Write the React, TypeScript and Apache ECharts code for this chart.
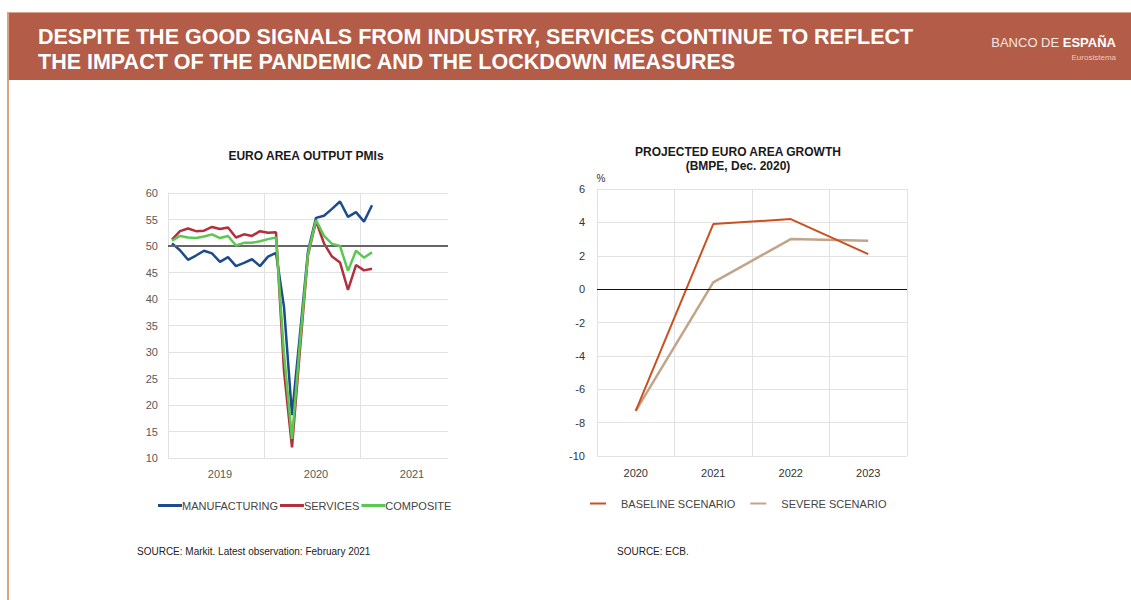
import React, { useEffect, useRef } from "react";
import * as echarts from "echarts";

const FONT = "'Liberation Sans', Arial, Helvetica, sans-serif";

// Left chart: monthly Euro area output PMIs (Jan 2019 – Feb 2021)
const YEARS = ["2019", "2020", "2021"];
const MONTHS = ["01", "02", "03", "04", "05", "06", "07", "08", "09", "10", "11"];
const MONTH_LIST_FULL = ["01", "02", "03", "04", "05", "06", "07", "08", "09", "10", "11", "12"];
const manufacturing = [50.5, 49.2, 47.4, 48.2, 49.1, 48.6, 47.0, 47.9, 46.2, 46.8, 47.5, 46.2, 48.0, 48.7, 38.5, 18.1, 33.4, 49.0, 55.3, 55.7, 57.0, 58.4, 55.5, 56.4, 54.6, 57.7];
const services = [51.2, 52.8, 53.3, 52.8, 52.9, 53.6, 53.2, 53.5, 51.6, 52.2, 51.9, 52.8, 52.5, 52.6, 26.4, 12.0, 30.5, 48.3, 54.7, 50.5, 48.0, 46.9, 41.7, 46.4, 45.4, 45.7];
const composite = [51.0, 51.9, 51.6, 51.5, 51.8, 52.2, 51.5, 51.9, 50.1, 50.6, 50.6, 50.9, 51.3, 51.6, 29.7, 13.6, 31.9, 48.5, 54.9, 51.9, 50.4, 50.0, 45.3, 49.1, 47.8, 48.8];
const PMI_REFERENCE = 50;

// Right chart: projected growth (%)
const projYears = ["2020", "2021", "2022", "2023"];
const baseline = [-7.3, 3.9, 4.2, 2.1];
const severe = [-7.3, 0.4, 3.0, 2.9];

// 35 monthly categories: Jan 2019 ... Nov 2021
const monthCats: string[] = [];
YEARS.forEach((y, yi) => {
  const list = yi < YEARS.length - 1 ? MONTH_LIST_FULL : MONTHS;
  list.forEach((m) => monthCats.push(`${y}-${m}`));
});

export default function App() {
  const ref = useRef<HTMLDivElement>(null);

  useEffect(() => {
    if (!ref.current) return;
    const chart = echarts.init(ref.current, null, { renderer: "svg" });

    const axisLabelStyle = { color: "#595959", fontSize: 11, fontFamily: FONT };
    const gridLine = { lineStyle: { color: "#E2E2E2", width: 1 } };

    const option: any = {
      animation: false,
      backgroundColor: "#ffffff",
      textStyle: { fontFamily: FONT },
      title: [
        {
          text: "EURO AREA OUTPUT PMIs",
          left: 301,
          top: 145,
          textAlign: "center",
          textStyle: { fontSize: 12, fontWeight: "bold", color: "#1a1a1a", fontFamily: FONT },
        },
        {
          text: "PROJECTED EURO AREA GROWTH\n(BMPE, Dec. 2020)",
          left: 733,
          top: 140,
          textAlign: "center",
          textStyle: { fontSize: 12, fontWeight: "bold", color: "#1a1a1a", fontFamily: FONT, lineHeight: 14 },
        },
      ],
      legend: [
        {
          data: ["MANUFACTURING", "SERVICES", "COMPOSITE"],
          left: 153,
          top: 495,
          itemWidth: 24,
          itemHeight: 3,
          itemGap: 2,
          icon: "rect",
          textStyle: { color: "#444", fontSize: 11, fontFamily: FONT, padding: [0, 0, 0, -5] },
        },
        {
          data: ["BASELINE SCENARIO", "SEVERE SCENARIO"],
          left: 585,
          top: 493,
          itemWidth: 16,
          itemHeight: 2,
          itemGap: 15,
          icon: "rect",
          textStyle: { color: "#444", fontSize: 11, fontFamily: FONT, padding: [0, 0, 0, 10] },
        },
      ],
      grid: [
        { left: 168, top: 193, width: 280, height: 265 },
        { left: 597, top: 189, width: 310, height: 267 },
      ],
      xAxis: [
        {
          type: "category",
          gridIndex: 0,
          data: monthCats,
          boundaryGap: true,
          axisLine: { show: false },
          axisTick: { show: false },
          axisLabel: {
            ...axisLabelStyle,
            margin: 10,
            interval: (index: number) => index % 12 === 6,
            formatter: (v: string) => v.slice(0, 4),
          },
          splitLine: {
            show: true,
            interval: (index: number) => index % 12 === 0,
            showMaxLine: false,
            ...gridLine,
          },
        },
        {
          type: "category",
          gridIndex: 1,
          data: projYears,
          boundaryGap: true,
          axisLine: { show: false },
          axisTick: { show: false },
          axisLabel: { ...axisLabelStyle, color: "#333", margin: 11 },
          splitLine: { show: true, interval: 0, ...gridLine },
        },
      ],
      yAxis: [
        {
          type: "value",
          gridIndex: 0,
          min: 10,
          max: 60,
          interval: 5,
          axisLine: { show: true, lineStyle: { color: "#E2E2E2" } },
          axisTick: { show: false },
          axisLabel: { ...axisLabelStyle, margin: 10 },
          splitLine: { show: true, ...gridLine },
        },
        {
          type: "value",
          gridIndex: 1,
          min: -10,
          max: 6,
          interval: 2,
          name: "%",
          nameLocation: "end",
          nameGap: 6,
          nameTextStyle: { color: "#333", fontSize: 10, fontFamily: FONT, padding: [0, 0, 0, 8] },
          axisLine: { show: true, lineStyle: { color: "#E2E2E2" } },
          axisTick: { show: false },
          axisLabel: { ...axisLabelStyle, color: "#333", margin: 12 },
          splitLine: { show: true, ...gridLine },
        },
      ],
      series: [
        {
          name: "MANUFACTURING",
          type: "line",
          xAxisIndex: 0,
          yAxisIndex: 0,
          data: manufacturing,
          showSymbol: false,
          color: "#1D4B8C",
          lineStyle: { width: 2.5, color: "#1D4B8C" },
          markLine: {
            silent: true,
            symbol: "none",
            label: { show: false },
            lineStyle: { color: "#666666", width: 2, type: "solid" },
            data: [{ yAxis: PMI_REFERENCE }],
          },
          z: 3,
        },
        {
          name: "SERVICES",
          type: "line",
          xAxisIndex: 0,
          yAxisIndex: 0,
          data: services,
          showSymbol: false,
          color: "#B22F3D",
          lineStyle: { width: 2.5, color: "#B22F3D" },
          z: 4,
        },
        {
          name: "COMPOSITE",
          type: "line",
          xAxisIndex: 0,
          yAxisIndex: 0,
          data: composite,
          showSymbol: false,
          color: "#5BC851",
          lineStyle: { width: 2.5, color: "#5BC851" },
          z: 5,
        },
        {
          name: "BASELINE SCENARIO",
          type: "line",
          xAxisIndex: 1,
          yAxisIndex: 1,
          data: baseline,
          showSymbol: false,
          color: "#C8521F",
          lineStyle: { width: 2, color: "#C8521F" },
          markLine: {
            silent: true,
            symbol: "none",
            label: { show: false },
            lineStyle: { color: "#111", width: 1, type: "solid" },
            data: [{ yAxis: 0 }],
          },
          z: 4,
        },
        {
          name: "SEVERE SCENARIO",
          type: "line",
          xAxisIndex: 1,
          yAxisIndex: 1,
          data: severe,
          showSymbol: false,
          color: "#C2A48A",
          lineStyle: { width: 2.5, color: "#C2A48A" },
          z: 3,
        },
      ],
      graphic: [
        { type: "rect", shape: { x: 8, y: 12, width: 1123, height: 68 }, style: { fill: "#B35C48" }, z: 10 },
        { type: "rect", shape: { x: 8, y: 12, width: 1123, height: 1 }, style: { fill: "#D9A88F" }, z: 11 },
        { type: "rect", shape: { x: 7, y: 12, width: 2, height: 588 }, style: { fill: "#D9A47E" }, z: 11 },
        {
          type: "text",
          x: 38,
          y: 24,
          z: 12,
          style: {
            text: "DESPITE THE GOOD SIGNALS FROM INDUSTRY, SERVICES CONTINUE TO REFLECT\nTHE IMPACT OF THE PANDEMIC AND THE LOCKDOWN MEASURES",
            fill: "#ffffff",
            font: `bold 21.5px ${FONT}`,
            lineHeight: 25,
            verticalAlign: "top",
          },
        },
        {
          type: "text",
          x: 1116,
          y: 42,
          z: 12,
          style: {
            text: "{a|BANCO DE }{b|ESPAÑA}",
            align: "right",
            verticalAlign: "middle",
            rich: {
              a: { fill: "#F5E6E1", fontSize: 13, fontFamily: FONT },
              b: { fill: "#ffffff", fontSize: 13, fontWeight: "bold", fontFamily: FONT },
            },
          },
        },
        {
          type: "text",
          x: 1116,
          y: 57,
          z: 12,
          style: {
            text: "Eurosistema",
            align: "right",
            verticalAlign: "middle",
            fill: "#EBCBC0",
            font: `8px ${FONT}`,
          },
        },
        {
          type: "text",
          x: 137,
          y: 551,
          style: {
            text: "SOURCE: Markit. Latest observation: February 2021",
            fill: "#222",
            font: `10px ${FONT}`,
            verticalAlign: "middle",
          },
        },
        {
          type: "text",
          x: 617,
          y: 551,
          style: {
            text: "SOURCE: ECB.",
            fill: "#222",
            font: `10px ${FONT}`,
            verticalAlign: "middle",
          },
        },
      ],
    };

    chart.setOption(option);
    return () => chart.dispose();
  }, []);

  return (
    <div
      ref={ref}
      style={{ position: "absolute", left: 0, top: 0, width: 1131, height: 600, background: "#fff" }}
    />
  );
}
